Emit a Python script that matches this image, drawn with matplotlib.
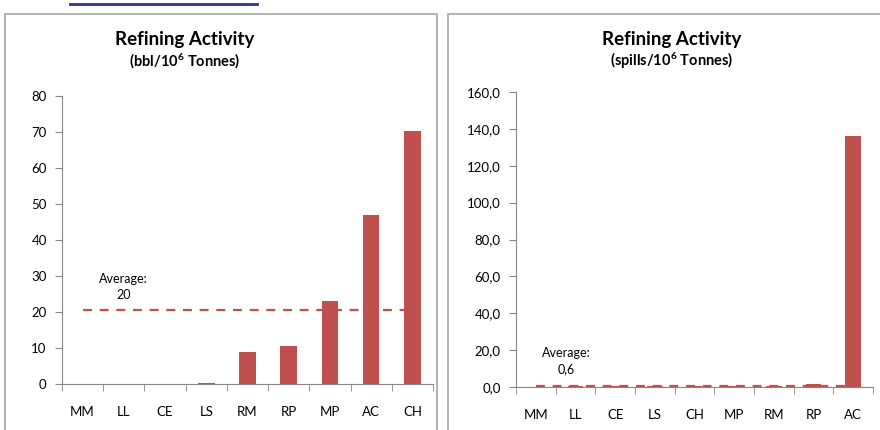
import matplotlib
matplotlib.use("Agg")
import matplotlib.pyplot as plt
from matplotlib.patches import Rectangle
from matplotlib.lines import Line2D

plt.rcParams['font.family'] = ['Lato', 'DejaVu Sans']
plt.rcParams['mathtext.fontset'] = 'custom'
plt.rcParams['mathtext.rm'] = 'Lato:bold'
plt.rcParams['mathtext.default'] = 'rm'

# données
cats_bbl = ["MM", "LL", "CE", "LS", "RM", "RP", "MP", "AC", "CH"]
vals_bbl = [0.0, 0.0, 0.0, 0.2, 9.0, 10.5, 23.0, 47.0, 70.2]
avg_bbl = 20.5
yticks_bbl = [0, 10, 20, 30, 40, 50, 60, 70, 80]

cats_spills = ["MM", "LL", "CE", "LS", "CH", "MP", "RM", "RP", "AC"]
vals_spills = [0.2, 0.3, 0.3, 0.5, 0.5, 0.6, 0.4, 1.6, 136.4]
avg_spills = 0.6
yticks_spills = [0, 20, 40, 60, 80, 100, 120, 140, 160]
yticklabels_spills = ["0,0", "20,0", "40,0", "60,0", "80,0", "100,0", "120,0", "140,0", "160,0"]

BAR = "#C0504D"
AXC = "#868686"

fig = plt.figure(figsize=(8.8, 4.3), dpi=100)

# cadres des deux graphiques + lien souligné en haut
fig.add_artist(Rectangle((5 / 880, -0.02), 432 / 880, 1.02 - 14 / 430,
                         transform=fig.transFigure, fill=False, ec="#A6A6A6", lw=1.2))
fig.add_artist(Rectangle((448 / 880, -0.02), 440 / 880, 1.02 - 14 / 430,
                         transform=fig.transFigure, fill=False, ec="#A6A6A6", lw=1.2))
fig.add_artist(Line2D([70 / 880, 257 / 880], [1 - 4 / 430, 1 - 4 / 430],
                      transform=fig.transFigure, color="#2E3192", lw=2))


def panel(rect, cats, vals, avg, yticks, yticklabels, ylim, avg_label, avg_xy):
    ax = fig.add_axes(rect)
    x = range(len(cats))
    ax.plot([0, len(cats) - 1], [avg, avg], ls=(0, (4, 3.5)), color=BAR, lw=1.6, zorder=1)
    ax.bar(x, vals, width=0.4, color=BAR, zorder=2)
    ax.set_xlim(-0.5, len(cats) - 0.5)
    ax.set_ylim(*ylim)
    ax.set_yticks(yticks)
    ax.set_yticklabels(yticklabels)
    ax.set_xticks(list(x))
    ax.set_xticklabels(cats)
    ax.set_xticks([i - 0.5 for i in range(len(cats) + 1)], minor=True)
    ax.tick_params(axis="x", which="major", length=0, pad=16, labelsize=9.5)
    ax.tick_params(axis="x", which="minor", length=5, color=AXC)
    ax.tick_params(axis="y", length=5, color=AXC, labelsize=9.5, pad=6)
    for s in ("top", "right"):
        ax.spines[s].set_visible(False)
    for s in ("left", "bottom"):
        ax.spines[s].set_color(AXC)
    ax.text(avg_xy[0], avg_xy[1], avg_label, ha="center", va="center",
            fontsize=9, linespacing=1.4)
    return ax


panel([62 / 880, 46 / 430, 371 / 880, 288 / 430], cats_bbl, vals_bbl, avg_bbl,
      yticks_bbl, [str(v) for v in yticks_bbl], (0, 80), "Average:\n20", (1.0, 27))
panel([516 / 880, 43 / 430, 357 / 880, 295 / 430], cats_spills, vals_spills, avg_spills,
      yticks_spills, yticklabels_spills, (0, 160), "Average:\n0,6", (0.76, 14.2))

# titres
fig.text(185 / 880, 1 - 40 / 430, "Refining Activity", ha="center", va="center",
         fontsize=13.5, fontweight="bold")
fig.text(185 / 880, 1 - 61 / 430, "(bbl/10$^{6}$ Tonnes)", ha="center", va="center",
         fontsize=10.5, fontweight="bold")
fig.text(672 / 880, 1 - 40 / 430, "Refining Activity", ha="center", va="center",
         fontsize=13.5, fontweight="bold")
fig.text(672 / 880, 1 - 61 / 430, "(spills/10$^{6}$ Tonnes)", ha="center", va="center",
         fontsize=10.5, fontweight="bold")

fig.savefig("out.png", dpi=100)
